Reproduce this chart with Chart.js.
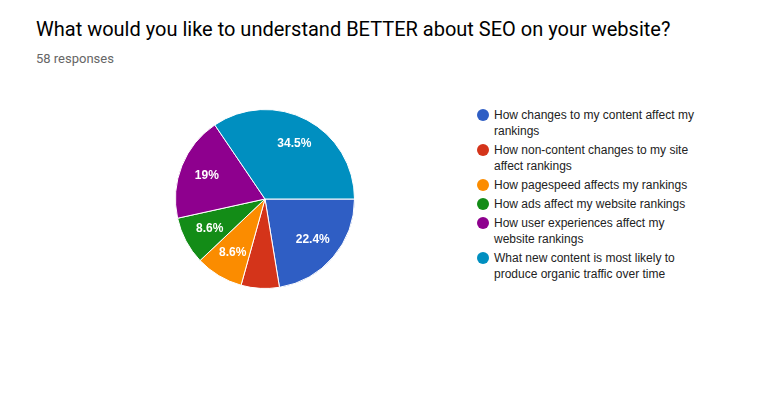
<!DOCTYPE html>
<html>
<head>
<meta charset="utf-8">
<script src="https://cdn.jsdelivr.net/npm/chart.js@4.4.1/dist/chart.umd.min.js"></script>
<style>
  body { margin: 0; background: #fff; width: 757px; height: 399px; position: relative; overflow: hidden; }
  #title { position: absolute; left: 36px; top: 17px; font: 20px Roboto, sans-serif; color: #000; white-space: nowrap; }
  #subtitle { position: absolute; left: 36px; top: 51px; font: 13px Roboto, sans-serif; color: #666; }
  #pie-wrap { position: absolute; left: 145px; top: 79px; width: 240px; height: 240px; }
  #legend { position: absolute; left: 477px; top: 107px; list-style: none; margin: 0; padding: 0; }
  #legend li { position: relative; padding-left: 17px; width: 207px; margin-bottom: 3px;
    font: 12px "Liberation Sans", Arial, sans-serif; line-height: 16px; color: #222; }
  #legend li span { position: absolute; left: 0; top: 2px; width: 12px; height: 12px; border-radius: 50%; }
</style>
</head>
<body>
<div id="title">What would you like to understand BETTER about SEO on your website?</div>
<div id="subtitle">58 responses</div>
<div id="pie-wrap"><canvas id="chart"></canvas></div>
<ul id="legend"></ul>
<script>
const answers = [
  "How changes to my content affect my rankings",
  "How non-content changes to my site affect rankings",
  "How pagespeed affects my rankings",
  "How ads affect my website rankings",
  "How user experiences affect my website rankings",
  "What new content is most likely to produce organic traffic over time",
];
const responses = [13, 4, 5, 5, 11, 20];
const colors = ["#2f5ec4", "#d4341a", "#fb8c00", "#138c17", "#8e008e", "#008fc0"];

// smallest share that still gets a label inside its slice
const minLabelShare = 0.08;

const sliceLabels = {
  id: "sliceLabels",
  afterDatasetsDraw(chart) {
    const ctx = chart.ctx;
    const data = chart.data.datasets[0].data;
    const total = data.reduce((a, b) => a + b, 0);
    ctx.save();
    ctx.font = "bold 12px 'Liberation Sans', Arial, sans-serif";
    ctx.fillStyle = "#fff";
    ctx.textAlign = "center";
    ctx.textBaseline = "middle";
    chart.getDatasetMeta(0).data.forEach((arc, i) => {
      const share = data[i] / total;
      if (share < minLabelShare) return;
      const mid = (arc.startAngle + arc.endAngle) / 2;
      const r = arc.outerRadius * 0.7;
      const text = parseFloat((share * 100).toFixed(1)) + "%";
      ctx.fillText(text, arc.x + Math.cos(mid) * r, arc.y + Math.sin(mid) * r);
    });
    ctx.restore();
  },
};

const chart = new Chart(document.getElementById("chart").getContext("2d"), {
  type: "pie",
  data: {
    labels: answers,
    datasets: [{
      data: responses,
      backgroundColor: colors,
      borderColor: "#fff",
      borderWidth: 1,
      hoverOffset: 0,
    }],
  },
  options: {
    responsive: true,
    maintainAspectRatio: false,
    animation: false,
    rotation: 90,
    layout: { padding: 30 },
    plugins: {
      legend: { display: false },
      tooltip: { enabled: true },
    },
  },
  plugins: [sliceLabels],
});

const legendList = document.getElementById("legend");
chart.options.plugins.legend.labels.generateLabels(chart).forEach((item) => {
  const li = document.createElement("li");
  li.innerHTML = `<span style="background:${item.fillStyle}"></span>${item.text}`;
  legendList.appendChild(li);
});
</script>
</body>
</html>
